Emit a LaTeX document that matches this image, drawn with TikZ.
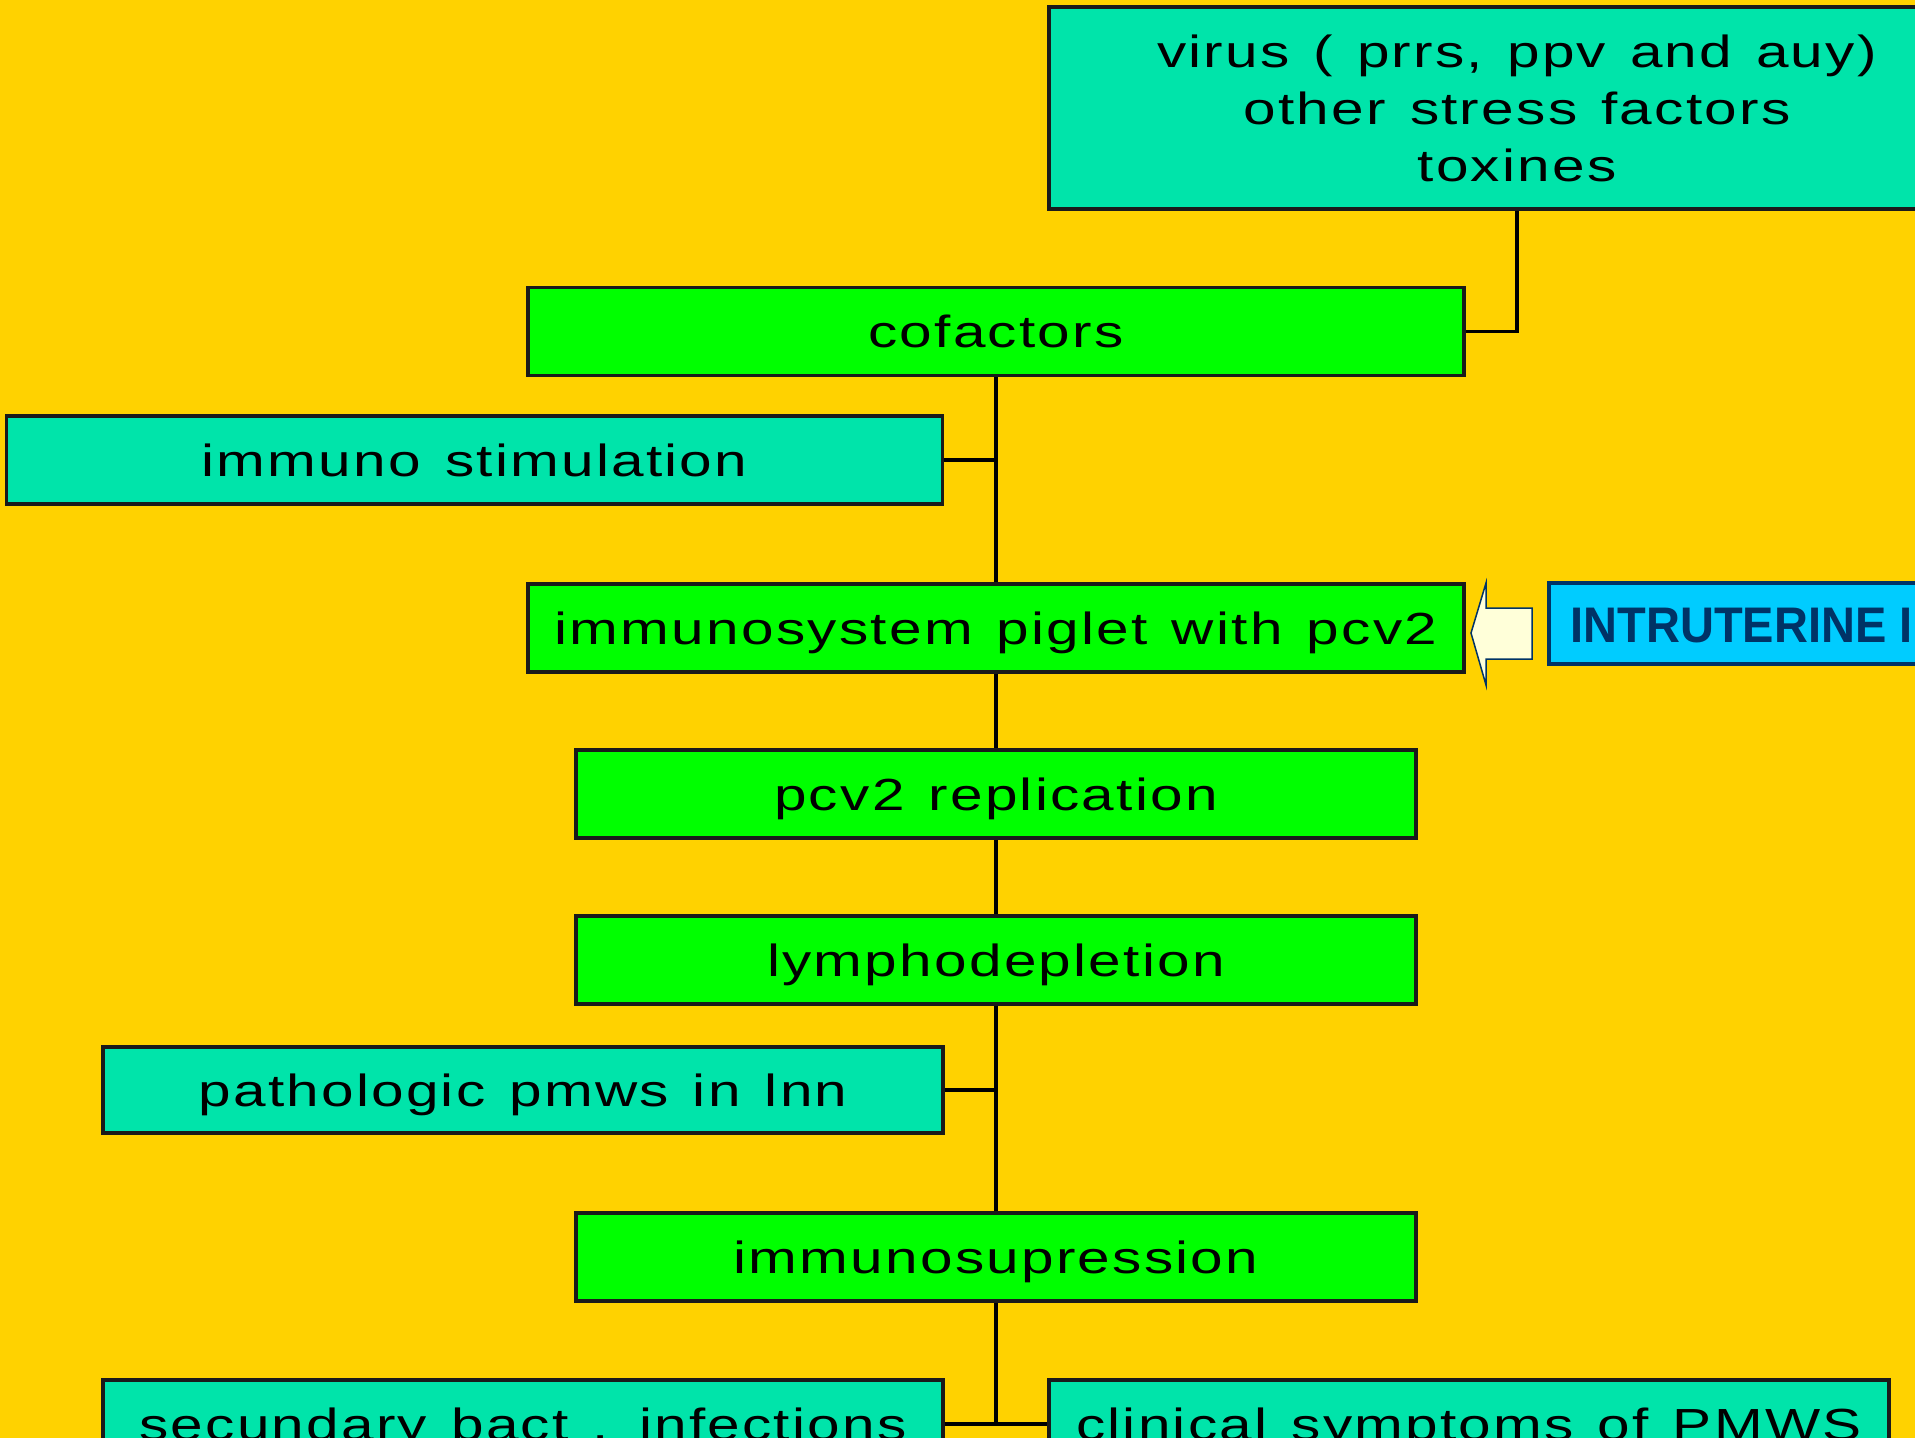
\documentclass[tikz,border=0pt]{standalone}
\usepackage{fontspec}
\setmainfont{Liberation Sans}
\newfontfamily\labelfont[FakeStretch=1.3,LetterSpace=5,WordSpace=1.3]{Liberation Sans}
\newfontfamily\bannerfont[FakeStretch=0.94]{Liberation Sans Bold}

\definecolor{pagebg}{HTML}{FFD200}
\definecolor{boxteal}{HTML}{00E4AA}
\definecolor{boxgreen}{HTML}{00FF00}
\definecolor{bannercyan}{HTML}{00CCFF}
\definecolor{bannernavy}{HTML}{003366}
\definecolor{arrowfill}{HTML}{FFFFD9}
\definecolor{edgegray}{HTML}{1A1A1A}

\tikzset{
  boxbase/.style={draw=edgegray, line width=1.75pt, inner sep=0pt,
    font=\labelfont\fontsize{22.5pt}{28.5pt}\selectfont},
  box/.style={boxbase, text height=16.5pt, text depth=0pt},
  longbox/.style={box, minimum width=468pt, minimum height=44pt},
  shortbox/.style={box, minimum width=420pt, minimum height=44pt},
  link/.style={draw=black, line width=1.75pt},
}

\begin{document}
\begin{tikzpicture}[x=0.5pt,y=-0.5pt]
  \useasboundingbox (0,0) rectangle (1915,1438);
  \clip (0,0) rectangle (1915,1438);
  \fill[pagebg] (0,0) rectangle (1915,1438);

  % cofactor sources
  \node[boxbase, fill=boxteal, minimum width=468pt, minimum height=101pt, align=center]
    (src) at (1517,108) {virus ( prrs, ppv and auy)\\other stress factors\\toxines};

  % main chain
  \node[longbox, fill=boxgreen] (cof) at (996,331.5) {cofactors};
  \node[longbox, fill=boxteal] (stim) at (474.5,460) {immuno stimulation};
  \node[longbox, fill=boxgreen] (pig) at (996,628) {immunosystem piglet with pcv2};
  \node[shortbox, fill=boxgreen] (rep) at (996,794) {pcv2 replication};
  \node[shortbox, fill=boxgreen] (lym) at (996,960) {lymphodepletion};
  \node[shortbox, fill=boxteal, minimum height=43pt] (path) at (523,1090) {pathologic pmws in lnn};
  \node[shortbox, fill=boxgreen] (sup) at (996,1257) {immunosupression};
  \node[shortbox, fill=boxteal] (sec) at (523,1424) {secundary bact . infections};
  \node[shortbox, fill=boxteal] (cli) at (1469,1424) {clinical symptoms of PMWS};

  % intrauterine banner
  \node[draw=bannernavy, line width=1.75pt, fill=bannercyan, inner sep=0pt,
    minimum width=300pt, minimum height=40.5pt, anchor=west] (intra) at (1547,623.5) {};
  \node[anchor=base west, inner sep=0pt, text=bannernavy,
    font=\bannerfont\fontsize{25pt}{30pt}\selectfont] (intratext) at (1570,642) {INTRUTERINE I};

  % block arrow pointing at the piglet box
  \draw[draw=bannernavy, line width=0.75pt, fill=arrowfill]
    (1471,633) -- (1486,583) -- (1486,608) -- (1532,608) -- (1532,659)
    -- (1486,659) -- (1486,685) -- cycle;

  % connectors
  \draw[link] (src.south) |- (cof.east);
  \draw[link] (cof.south) -- (pig.north);
  \draw[link] (stim.east) -- (stim.east -| cof.south);
  \draw[link] (pig.south) -- (rep.north);
  \draw[link] (rep.south) -- (lym.north);
  \draw[link] (lym.south) -- (sup.north);
  \draw[link] (path.east) -- (path.east -| lym.south);
  \draw[link] (sup.south) -- (sup.south |- sec.east);
  \draw[link] (sec.east) -- (cli.west);
\end{tikzpicture}
\end{document}
